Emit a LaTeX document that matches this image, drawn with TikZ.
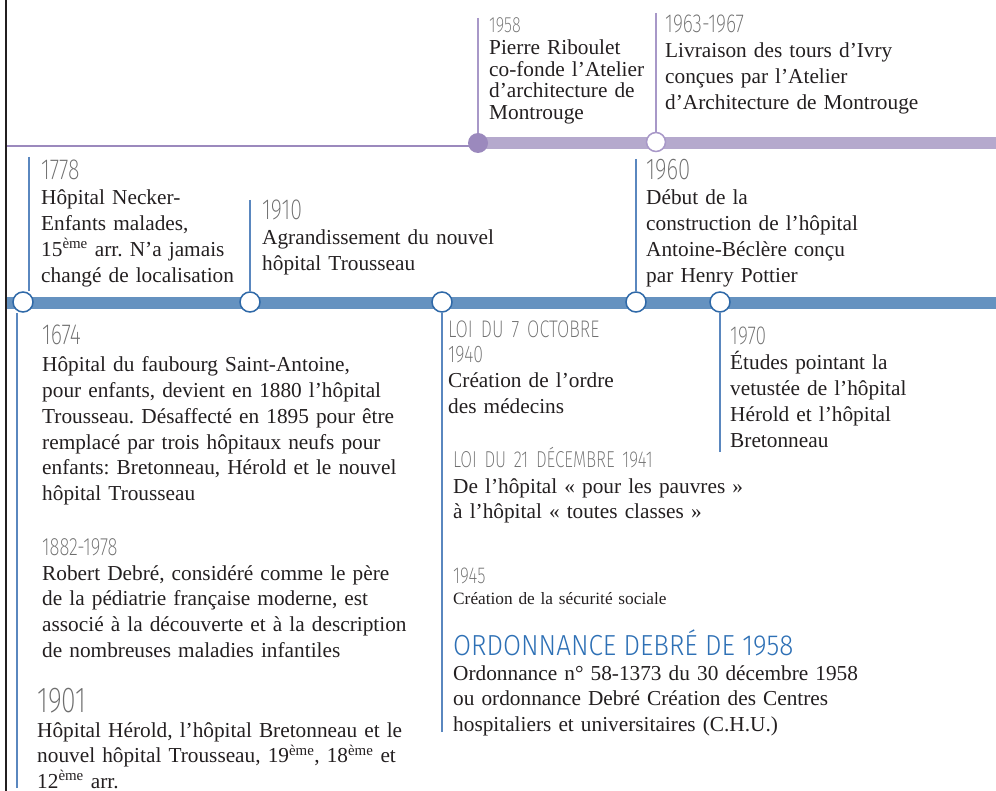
\documentclass[tikz,border=0pt]{standalone}
\usepackage{fontspec}
\setmainfont{Liberation Serif}
\newfontfamily\yearfont{Fira Sans ExtraLight}[FakeStretch=0.74]
\newfontfamily\titlefont{Fira Sans Light}[FakeStretch=0.9]
\frenchspacing

\definecolor{ink}{HTML}{231F20}
\definecolor{yeargray}{HTML}{6E6E6E}
\definecolor{barblue}{HTML}{6592C0}
\definecolor{ringblue}{HTML}{2F69A8}
\definecolor{lineblue}{HTML}{5A87BF}
\definecolor{barpurple}{HTML}{B5A9CD}
\definecolor{dotpurple}{HTML}{9B89BD}
\definecolor{linepurple}{HTML}{A898C8}
\definecolor{titleblue}{HTML}{2E70B5}

\begin{document}
\begin{tikzpicture}[
    x = 1pt, y = -1pt,
    yr/.style = {anchor = base west, inner sep = 0, text = yeargray, align = left,
                 text width = 300pt, font = \yearfont\fontsize{#1}{25}\selectfont},
    txt/.style = {anchor = base west, inner sep = 0, text = ink, align = left,
                  text width = 420pt, font = \fontsize{21.3}{25.7}\selectfont},
    bring/.style = {circle, draw = ringblue, fill = white, line width = 1.5pt,
                    minimum size = 20pt, inner sep = 0},
    pring/.style = {circle, draw = linepurple, fill = white, line width = 1.5pt,
                    minimum size = 19pt, inner sep = 0},
    vblue/.style = {draw = lineblue, line width = 1.3pt},
    vpurple/.style = {draw = linepurple, line width = 1.3pt}]

\useasboundingbox (0,0) rectangle (996,791);

% axes
\draw[ink, line width = 2pt] (6,0) -- (6,791);
\draw[dotpurple, line width = 2pt] (7,146) -- (478,146);
\draw[barpurple, line width = 12pt] (478,143) -- (996,143);
\draw[barblue, line width = 12pt] (7,303) -- (996,303);

% anchors of the stems
\coordinate (s1958) at (478,18);
\coordinate (s1963) at (656,13);
\coordinate (s1778) at (29,157);
\coordinate (s1674) at (17,788);
\coordinate (s1910) at (250,200);
\coordinate (s1940) at (442,732);
\coordinate (s1960) at (636,159);
\coordinate (s1970) at (720,452);

\node[circle, fill = dotpurple, minimum size = 20pt, inner sep = 0] (c1958) at (478,143) {};
\node[pring] (c1963) at (656,142) {};
\node[bring] (c1778) at (23,302) {};
\node[bring] (c1910) at (250,302) {};
\node[bring] (c1940) at (442,302) {};
\node[bring] (c1960) at (636,302) {};
\node[bring] (c1970) at (720,302) {};

\draw[vpurple] (s1958) -- (c1958);
\draw[vpurple] (s1963) -- (c1963);
\draw[vblue] (s1778) -- (s1778 |- c1778.north);
\draw[vblue] (s1674) -- (s1674 |- c1778.south);
\draw[vblue] (s1910) -- (c1910);
\draw[vblue] (s1940) -- (c1940);
\draw[vblue] (s1960) -- (c1960);
\draw[vblue] (s1970) -- (c1970);

% dates
\node[yr=22] (y1958) at (489,33) {1958};
\node[yr=26] (y1963) at (665,33) {1963-1967};
\node[yr=29] (y1778) at (41,180) {1778};
\node[yr=29] (y1910) at (262,220) {1910};
\node[yr=30] (y1960) at (646,180) {1960};
\node[yr=29] (y1674) at (42,345) {1674};
\node[yr=25] (y1882) at (42,555) {1882-1978};
\node[yr=36] (y1901) at (37,712) {1901};
\node[yr=26] (y1970) at (730,345) {1970};
\node[yr=24] (y1940) at (448,338) {LOI DU 7 OCTOBRE\\1940};
\node[yr=23] (y1941) at (453,467) {LOI DU 21 DÉCEMBRE 1941};
\node[yr=23] (y1945) at (453,583) {1945};
\node[anchor = base west, inner sep = 0, text = titleblue,
      font = \titlefont\fontsize{29}{30}\selectfont] (y1958b) at (453,655)
      {ORDONNANCE DEBRÉ DE 1958};

% texts
\node[txt, font = \fontsize{21.3}{21.5}\selectfont] (t1958) at (489,55)
      {Pierre Riboulet\\co-fonde l’Atelier\\d’architecture de\\Montrouge};
\node[txt] (t1963) at (665,58)
      {Livraison des tours d’Ivry\\conçues par l’Atelier\\d’Architecture de Montrouge};
\node[txt] (t1778) at (41,205)
      {Hôpital Necker-\\Enfants malades,\\15\textsuperscript{ème} arr. N’a jamais\\changé de localisation};
\node[txt] (t1910) at (262,245)
      {Agrandissement du nouvel\\hôpital Trousseau};
\node[txt] (t1960) at (646,205)
      {Début de la\\construction de l’hôpital\\Antoine-Béclère conçu\\par Henry Pottier};
\node[txt] (t1674) at (42,372)
      {Hôpital du faubourg Saint-Antoine,\\pour enfants, devient en 1880 l’hôpital\\Trousseau. Désaffecté en 1895 pour être\\remplacé par trois hôpitaux neufs pour\\enfants: Bretonneau, Hérold et le nouvel\\hôpital Trousseau};
\node[txt] (t1882) at (42,580)
      {Robert Debré, considéré comme le père\\de la pédiatrie française moderne, est\\associé à la découverte et à la description\\de nombreuses maladies infantiles};
\node[txt] (t1901) at (37,737)
      {Hôpital Hérold, l’hôpital Bretonneau et le\\nouvel hôpital Trousseau, 19\textsuperscript{ème}, 18\textsuperscript{ème} et\\12\textsuperscript{ème} arr.};
\node[txt] (t1970) at (730,370)
      {Études pointant la\\vetustée de l’hôpital\\Hérold et l’hôpital\\Bretonneau};
\node[txt] (t1940) at (448,388)
      {Création de l’ordre\\des médecins};
\node[txt] (t1941) at (453,493)
      {De l’hôpital «~pour les pauvres~»\\à l’hôpital «~toutes classes~»};
\node[txt, font = \fontsize{17.3}{20}\selectfont] (t1945) at (453,604)
      {Création de la sécurité sociale};
\node[txt] (t1958b) at (453,680)
      {Ordonnance n° 58-1373 du 30 décembre 1958\\ou ordonnance Debré Création des Centres\\hospitaliers et universitaires (C.H.U.)};
\end{tikzpicture}
\end{document}
